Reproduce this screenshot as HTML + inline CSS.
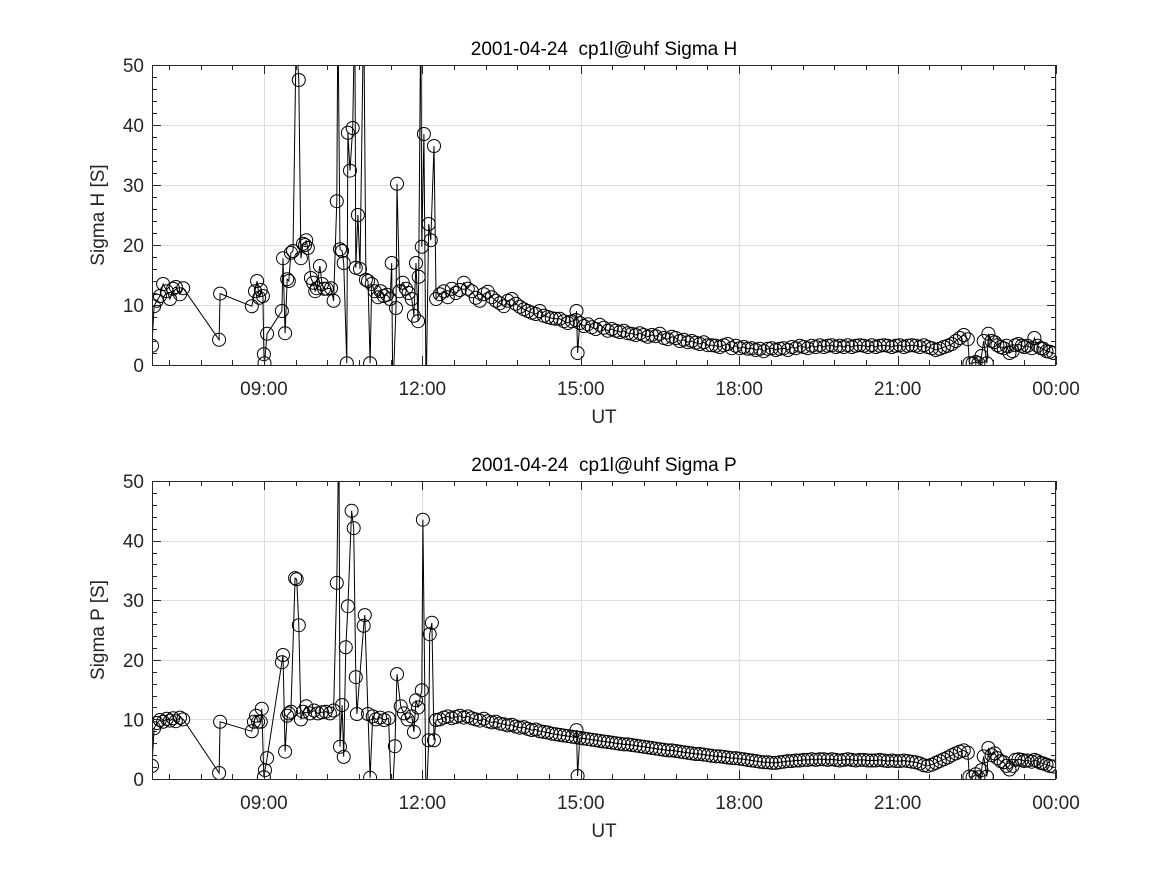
<!DOCTYPE html>
<html><head><meta charset="utf-8">
<style>
html,body{margin:0;padding:0;background:#fff;}
svg{display:block;font-family:"Liberation Sans",sans-serif;}
</style></head>
<body>
<svg id="fig" width="1167" height="875" viewBox="0 0 1167 875" xmlns="http://www.w3.org/2000/svg">
<rect x="0" y="0" width="1167" height="875" fill="#fff"/>
</svg>
<script>
// ---- data (hours UT, values in S) ----
const xTickLabels = ["09:00","12:00","15:00","18:00","21:00","00:00"];
const xTickHours = [9,12,15,18,21,24];
const yTickLabels = ["0","10","20","30","40","50"];
const yTickValues = [0,10,20,30,40,50];

const hIrrTimes = [6.88,6.92,6.97,7.03,7.09,7.16,7.22,7.28,7.33,7.41,7.47,8.15,8.17,8.77,8.83,8.87,8.91,8.94,8.98,9.0,9.01,9.06,9.34,9.36,9.40,9.44,9.47,9.51,9.55,9.61,9.66,9.70,9.74,9.78,9.80,9.83,9.89,9.93,9.97,10.0,10.06,10.10,10.14,10.19,10.27,10.32,10.38,10.40,10.44,10.48,10.51,10.57,10.59,10.63,10.68,10.72,10.74,10.78,10.82,10.89,10.93,10.97,11.01,11.04,11.10,11.16,11.21,11.27,11.33,11.39,11.42,11.44,11.50,11.52,11.57,11.63,11.69,11.74,11.80,11.84,11.88,11.92,11.93,11.97,11.99,12.03,12.07,12.12,12.16,12.22,12.26,14.92,14.94,22.36,22.42,22.48,22.53,22.59,22.63,22.69,22.72,22.78,22.84,22.89,22.95,23.01,23.06,23.12,23.18,23.23,23.29,23.35,23.40,23.46,23.54,23.59,23.65,23.71,23.76,23.82,23.88,23.95];
const hIrrValues = [3.2,9.8,10.7,11.5,13.5,12.3,11,12.7,13,11.8,12.8,4.2,11.9,9.8,12.3,14,11.2,12.5,11.5,1.8,0.3,5.2,9,17.8,5.3,14.3,14,18.7,19,55,47.5,17.8,20.2,20,20.8,19.5,14.5,13.7,12.3,12.8,16.5,13.5,12.7,12.7,12.8,10.7,27.3,60,19.3,19,17,0.3,38.7,32.4,39.5,60,16.2,25,16,60,14.2,14,0.3,13.5,12.3,11.3,12.3,11.5,11.7,11,17,-5,9.5,30.2,12.3,13.7,12.7,12,11,8.2,17,7.3,14.7,60,19.7,38.5,-5,23.5,20.8,36.5,11,9,2,0.3,0.3,0.5,0.3,1.5,4,0.3,5.2,4,3.8,3.3,3,2.8,3.2,2,2.3,3.3,3.5,3.2,3,3.2,2.8,4.5,3.2,2.8,2.7,2.3,2.2,2];
const hRegValues = [11.8,12.3,11.3,12.7,12,12.5,13.7,12.7,12.3,11.2,10.7,11.8,12.2,11.3,10.7,10.3,9.8,10.7,11,10.2,9.7,9.3,9,8.7,8.5,9,8.2,8,7.8,7.7,7.7,7.3,7,7.3,7.5,7,6.5,6.8,6.3,6,6.7,6.2,5.7,6,5.7,5.5,5.7,5.3,5.2,5,5.3,5,4.7,5,4.8,5.2,4.5,4.3,4.7,4.5,4,4.2,3.8,4,3.7,3.5,3.8,3.3,3.3,3.2,3,3.3,3.5,2.8,3.2,2.8,3,2.7,2.8,2.5,2.7,2.3,2.7,2.8,2.5,2.7,2.8,2.5,3,2.8,3.2,3,2.8,3.2,3,3.3,3,3.2,3.3,3,3.2,3,3.3,3,3.2,3.3,3.2,3,3.3,3,3.2,3.3,3.2,3,3.2,3.3,3,3.2,3.3,3.2,3,3.3,3,2.8,2.5,2.7,3,3.2,3.5,4,4.5,5,4.3];

const pIrrTimes = [6.88,6.92,6.97,7.03,7.09,7.16,7.22,7.28,7.33,7.41,7.47,8.15,8.17,8.77,8.81,8.85,8.89,8.94,8.96,9.0,9.02,9.06,9.34,9.36,9.40,9.44,9.47,9.51,9.59,9.62,9.66,9.70,9.74,9.80,9.87,9.95,10.02,10.10,10.17,10.25,10.32,10.38,10.42,10.44,10.48,10.51,10.55,10.59,10.66,10.70,10.74,10.76,10.89,10.91,10.97,11.01,11.06,11.12,11.2,11.28,11.36,11.42,11.48,11.52,11.59,11.65,11.72,11.80,11.84,11.88,11.92,11.99,12.01,12.07,12.12,12.14,12.18,12.22,12.26,14.92,14.94,22.36,22.42,22.48,22.53,22.59,22.63,22.69,22.72,22.78,22.84,22.89,22.95,23.01,23.06,23.12,23.18,23.23,23.29,23.35,23.40,23.46,23.54,23.59,23.65,23.71,23.76,23.82,23.88,23.95];
const pIrrValues = [2.2,8.5,9.4,9.9,9.6,10.1,9.8,10.2,9.7,10.3,10,1,9.6,8,9.6,10.6,9.6,9.6,11.8,0.3,1.5,3.5,19.6,20.8,4.6,10.6,11,11.3,33.7,33.5,25.8,10,11.3,12.2,11,11.5,11,11.2,11.3,11,11.5,32.9,60,5.4,12.4,3.7,22.1,29,45,42.1,17.1,10.9,25.7,27.5,10.9,0.2,10.5,10,10.3,9.9,10.2,-5,5.5,17.6,12.2,11,10,10.5,7.9,13.2,12,14.9,43.5,-5,6.5,24.3,26.2,6.5,9.9,8.2,0.5,0.4,0.3,0.8,0.3,1.5,3.8,0.4,5.2,4,4.3,3.5,3,2.8,2.2,1.6,2.2,3.2,3.3,3.2,3,3.1,2.9,3.2,3,2.7,2.6,2.4,2.2,2.1];
const pRegValues = [10,10.3,10.5,10.2,10.4,10.6,10.3,10.5,10.2,10,9.8,10.1,9.7,9.5,9.6,9.3,9.2,9,9.1,8.8,8.6,8.7,8.4,8.2,8.3,8,7.9,7.8,7.6,7.5,7.4,7.3,7.2,7.1,7,6.9,6.8,6.7,6.6,6.5,6.4,6.3,6.2,6.1,6,5.9,5.8,5.8,5.7,5.6,5.5,5.4,5.3,5.2,5.1,5,4.9,4.8,4.8,4.7,4.6,4.5,4.4,4.3,4.2,4.2,4.1,4,3.9,3.8,3.8,3.7,3.6,3.5,3.5,3.4,3.3,3.2,3.1,3,2.9,2.8,2.8,2.7,2.7,2.8,2.9,3,3,3.1,3.1,3.2,3.2,3.3,3.2,3.3,3.3,3.2,3.3,3.2,3.1,3.2,3.3,3.2,3.1,3.2,3.2,3.1,3.1,3.1,3.2,3.1,3,3.1,3,3,3.1,3,2.9,2.8,2.6,2.3,2.2,2.4,2.7,3,3.3,3.6,4,4.3,4.6,4.8,4.4];

const regStart = 12.33, regEnd = 22.33;

const NS = "http://www.w3.org/2000/svg";
const svg = document.getElementById("fig");
function mk(tag, attrs, parent){
  const e = document.createElementNS(NS, tag);
  for (const k in attrs) e.setAttribute(k, attrs[k]);
  (parent||svg).appendChild(e);
  return e;
}

const X0 = 152, X1 = 1056;
const H0 = 6.88, H1 = 24;
function xScale(h){ return X0 + (h - H0) / (H1 - H0) * (X1 - X0); }

function drawPanel(cfg){
  const top = cfg.top, bot = cfg.bot;
  const yScale = v => bot - v / 50 * (bot - top);
  const g = mk("g", {});
  
  
  // clip
  const cp = mk("clipPath", {id: cfg.name + "-clip"}, g);
  mk("rect", {x: X0, y: top, width: X1 - X0, height: bot - top}, cp);
  // grid
  const grid = mk("g", {stroke: "#dedede", "stroke-width": 1}, g);
  
  
  xTickHours.forEach(h => { const x = Math.round(xScale(h)) + 0.5; mk("line", {x1: x, x2: x, y1: top, y2: bot}, grid); });
  yTickValues.forEach(v => { const y = Math.round(yScale(v)) + 0.5; mk("line", {x1: X0, x2: X1, y1: y, y2: y}, grid); });
  // series
  const times = [], vals = [];
  cfg.irrT.forEach((t, i) => { times.push(t); vals.push(cfg.irrV[i]); });
  const n = cfg.reg.length;
  cfg.reg.forEach((v, i) => { times.push(regStart + (regEnd - regStart) * i / (n - 1)); vals.push(v); });
  const idx = times.map((t, i) => i).sort((a, b) => times[a] - times[b]);
  const sg = mk("g", {"clip-path": "url(#" + cfg.name + "-clip)"}, g);
  
  
  const pts = idx.map(i => xScale(times[i]).toFixed(1) + "," + yScale(vals[i]).toFixed(1)).join(" ");
  const line = mk("polyline", {points: pts, fill: "none", stroke: "#000", "stroke-width": 1}, sg);
  
  
  idx.forEach(i => {
    const c = mk("circle", {cx: xScale(times[i]).toFixed(1), cy: yScale(vals[i]).toFixed(1), r: 6.5, fill: "none", stroke: "#000", "stroke-width": 1}, sg);
    
    
  });
  // axes box and ticks
  const ax = mk("g", {stroke: "#262626", "stroke-width": 1, fill: "none"}, g);
  
  
  mk("rect", {x: X0 + 0.5, y: top + 0.5, width: X1 - X0 - 1, height: bot - top}, ax);
  for (let h = 9 - 1.8; h <= 24.01; h += 0.6) {
    if (h < H0) continue;
    const x = Math.round(xScale(h)) + 0.5;
    const major = Math.abs(h / 3 - Math.round(h / 3)) < 0.01;
    const L = major ? 9 : 5;
    mk("line", {x1: x, x2: x, y1: bot, y2: bot - L}, ax);
    mk("line", {x1: x, x2: x, y1: top, y2: top + L}, ax);
  }
  for (let v = 0; v <= 50; v += 2) {
    const y = Math.round(yScale(v)) + 0.5;
    const L = (v % 10 === 0) ? 9 : 5;
    mk("line", {x1: X0, x2: X0 + L, y1: y, y2: y}, ax);
    mk("line", {x1: X1, x2: X1 - L, y1: y, y2: y}, ax);
  }
  // tick labels
  xTickHours.forEach((h, i) => {
    const t = mk("text", {x: xScale(h), y: bot + 30, "text-anchor": "middle", "font-size": 19, fill: "#262626"}, g);
    
    
    t.textContent = xTickLabels[i];
  });
  yTickValues.forEach((v, i) => {
    const t = mk("text", {x: X0 - 8, y: yScale(v) + 7, "text-anchor": "end", "font-size": 19, fill: "#262626"}, g);
    
    
    t.textContent = yTickLabels[i];
  });
  const xl = mk("text", {x: (X0 + X1) / 2, y: bot + 58, "text-anchor": "middle", "font-size": 19, fill: "#262626"}, g);
  
  
  xl.textContent = "UT";
  const yl = mk("text", {x: 0, y: 0, transform: "translate(104," + ((top + bot) / 2) + ") rotate(-90)", "text-anchor": "middle", "font-size": 19, fill: "#262626"}, g);
  
  
  yl.textContent = cfg.ylabel;
  const ti = mk("text", {x: (X0 + X1) / 2, y: top - 10, "text-anchor": "middle", "font-size": 19, fill: "#000"}, g);
  
  
  ti.setAttribute('xml:space', 'preserve');
  ti.textContent = cfg.title;
}

drawPanel({name: "sigma-h-panel", top: 65, bot: 365, irrT: hIrrTimes, irrV: hIrrValues, reg: hRegValues, ylabel: "Sigma H [S]", title: "2001-04-24\u00a0 cp1l@uhf Sigma H"});
drawPanel({name: "sigma-p-panel", top: 481, bot: 779, irrT: pIrrTimes, irrV: pIrrValues, reg: pRegValues, ylabel: "Sigma P [S]", title: "2001-04-24\u00a0 cp1l@uhf Sigma P"});
</script>
</body></html>
